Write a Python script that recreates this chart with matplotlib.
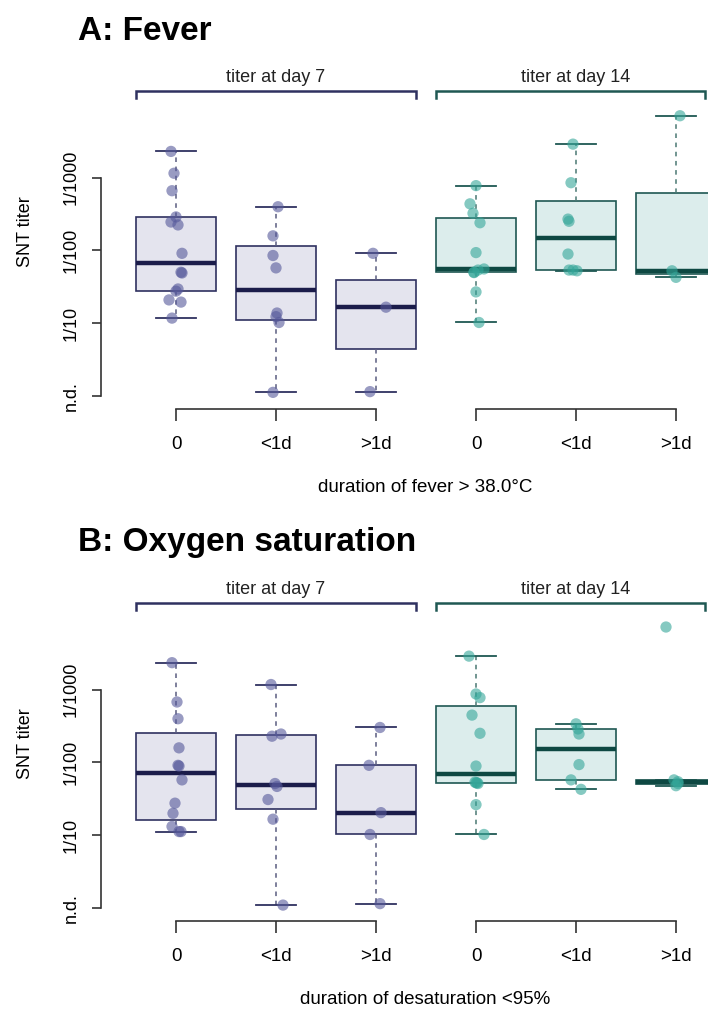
import numpy as np
import matplotlib.pyplot as plt

plt.rcParams.update({
    'font.family': ['Liberation Sans', 'DejaVu Sans'],
    'font.size': 13,
})

# ==========================================
# Data (log10 of reciprocal SNT titer, 0 = n.d.)
# ==========================================
categories = ['0', '<1d', '>1d']
day_labels = ['titer at day 7', 'titer at day 14']
tick_values = [0, 1, 2, 3]
tick_labels = ['n.d.', '1/10', '1/100', '1/1000']

# A: fever
fever_d7_0 = [3.36, 3.06, 2.82, 2.46, 2.39, 2.35, 1.96, 1.70, 1.69, 1.47, 1.44, 1.32, 1.29, 1.07]
fever_d7_lt1 = [2.60, 2.20, 1.93, 1.76, 1.14, 1.09, 1.01, 0.05]
fever_d7_gt1 = [1.96, 1.22, 0.06]
fever_d14_0 = [2.89, 2.64, 2.51, 2.38, 1.97, 1.745, 1.73, 1.70, 1.695, 1.43, 1.01]
fever_d14_lt1 = [3.46, 2.93, 2.43, 2.40, 1.95, 1.73, 1.73, 1.72]
fever_d14_gt1 = [3.85, 1.72, 1.63]

# B: oxygen saturation
oxy_d7_0 = [3.37, 2.83, 2.60, 2.20, 1.96, 1.95, 1.76, 1.44, 1.30, 1.12, 1.05, 1.05]
oxy_d7_lt1 = [3.07, 2.36, 2.39, 1.71, 1.67, 1.49, 1.22, 0.04]
oxy_d7_gt1 = [2.48, 1.96, 1.31, 1.01, 0.06]
oxy_d14_0 = [3.46, 2.94, 2.89, 2.65, 2.40, 1.95, 1.73, 1.72, 1.72, 1.71, 1.42, 1.01]
oxy_d14_lt1 = [2.53, 2.46, 2.39, 1.97, 1.76, 1.63]
oxy_d14_gt1 = [3.86, 1.76, 1.735, 1.71, 1.68]

# horizontal jitter of the dots, as seen in the figure
fever_jit = [
    [-0.05, -0.02, -0.04, 0.00, -0.05, 0.02, 0.06, 0.05, 0.06, 0.02, 0.00, -0.07, 0.05, -0.04],
    [0.02, -0.03, -0.03, 0.00, 0.01, 0.00, 0.03, -0.03],
    [-0.03, 0.10, -0.06],
    [0.00, -0.06, -0.03, 0.04, 0.00, 0.08, 0.02, -0.02, -0.02, 0.00, 0.03],
    [-0.03, -0.05, -0.08, -0.07, -0.08, -0.07, -0.03, 0.01],
    [0.04, -0.04, 0.00],
]
oxy_jit = [
    [-0.04, 0.01, 0.02, 0.03, 0.02, 0.03, 0.06, -0.01, -0.03, -0.04, 0.03, 0.05],
    [-0.05, -0.04, 0.05, -0.01, 0.01, -0.08, -0.03, 0.07],
    [0.04, -0.07, 0.05, -0.06, 0.04],
    [-0.07, 0.00, 0.04, -0.04, 0.04, 0.00, -0.01, 0.01, 0.00, 0.02, 0.00, 0.08],
    [0.00, 0.02, 0.03, 0.03, -0.05, 0.05],
    [-0.10, -0.02, 0.02, 0.02, 0.00],
]

# colours: day 7 (navy) / day 14 (teal)
EDGE = ['#2f3160', '#1f5853']
WHISK = ['#5a5c80', '#4a7873']
MED = ['#1b1c4a', '#0e4842']
FILL = ['#e4e4ee', '#dcedec']
DOT = ['#55589a', '#34a699']

W, H = 708, 1010


def box_stats(vals):
    """Tukey hinges (R fivenum) with 1.5*IQR whiskers, like R's boxplot."""
    x = np.sort(np.asarray(vals, dtype=float))
    n = len(x)
    n4 = np.floor((n + 3) / 2) / 2
    d = np.array([1, n4, (n + 1) / 2, n + 1 - n4, n]) - 1
    f = 0.5 * (x[np.floor(d).astype(int)] + x[np.ceil(d).astype(int)])
    iqr = f[3] - f[1]
    lo = x[x >= f[1] - 1.5 * iqr].min()
    hi = x[x <= f[3] + 1.5 * iqr].max()
    return dict(med=f[2], q1=f[1], q3=f[3], whislo=lo, whishi=hi, fliers=[])


def draw_panel(top_px, groups, jitters, title, xlabel):
    # axes box in pixels: x 120..708, y top_px..top_px+301
    ax = fig.add_axes([120 / W, 1 - (top_px + 301) / H, 588 / W, 301 / H])
    ax.set_xlim(0.44, 6.32)
    ax.set_ylim(-0.055, 4.08)
    positions = np.arange(1, 7)

    for g in range(2):
        idx = range(3 * g, 3 * g + 3)
        stats = [box_stats(groups[i]) for i in idx]
        ax.bxp(stats, positions=positions[3 * g:3 * g + 3], widths=0.8,
               capwidths=0.4, showfliers=False, patch_artist=True,
               boxprops=dict(facecolor=FILL[g], edgecolor=EDGE[g], linewidth=1.2),
               medianprops=dict(color=MED[g], linewidth=3.2),
               whiskerprops=dict(color=WHISK[g], linewidth=1.1, linestyle=(0, (3, 3))),
               capprops=dict(color=EDGE[g], linewidth=1.3))
        for i in idx:
            ax.scatter(positions[i] + np.asarray(jitters[i]), groups[i], s=66,
                       color=DOT[g], alpha=0.6, edgecolors='none', zorder=4)

        # bracket over each day group
        x0 = positions[3 * g] - 0.4
        x1 = min(positions[3 * g + 2] + 0.4, 6.29)
        ax.plot([x0, x0, x1, x1], [4.09, 4.19, 4.19, 4.09], color=EDGE[g],
                lw=1.8, clip_on=False, solid_joinstyle='miter')
        ax.text(positions[3 * g + 1], 4.38, day_labels[g], ha='center',
                va='center', fontsize=13, color='#222222')

        # separate x-axis segment per group
        ax.plot([positions[3 * g], positions[3 * g + 2]], [-9 / 301] * 2,
                transform=ax.get_xaxis_transform(), color='#333333', lw=1.2,
                clip_on=False)

    # axes styling (R-like detached axes)
    for side in ['top', 'right', 'bottom']:
        ax.spines[side].set_visible(False)
    ax.spines['left'].set_position(('outward', 19 * 0.72))
    ax.spines['left'].set_bounds(0, 3)
    ax.spines['left'].set_color('#333333')
    ax.spines['left'].set_linewidth(1.2)
    ax.spines['bottom'].set_position(('outward', 9 * 0.72))

    ax.set_yticks(tick_values)
    ax.set_yticklabels(tick_labels, rotation=90, va='center', fontsize=13)
    ax.tick_params(axis='y', length=6.5, width=1.2, color='#333333', pad=9)
    ax.set_xticks(positions)
    ax.set_xticklabels(categories * 2, fontsize=13.5)
    ax.tick_params(axis='x', length=8.5, width=1.2, color='#333333', pad=11)

    fig.text(25 / W, 1 - (top_px + 133) / H, 'SNT titer', rotation=90,
             ha='center', va='center', fontsize=13)
    fig.text(78 / W, 1 - (top_px - 68) / H, title, fontsize=24,
             fontweight='bold', ha='left', va='center')
    fig.text(425 / W, 1 - (top_px + 389) / H, xlabel, ha='center',
             va='center', fontsize=13.5)
    return ax


fig = plt.figure(figsize=(W / 100, H / 100), dpi=100)

draw_panel(99, [fever_d7_0, fever_d7_lt1, fever_d7_gt1,
                fever_d14_0, fever_d14_lt1, fever_d14_gt1],
           fever_jit, 'A: Fever', 'duration of fever > 38.0°C')
draw_panel(611, [oxy_d7_0, oxy_d7_lt1, oxy_d7_gt1,
                 oxy_d14_0, oxy_d14_lt1, oxy_d14_gt1],
           oxy_jit, 'B: Oxygen saturation', 'duration of desaturation <95%')

fig.savefig('out.png', dpi=100)
